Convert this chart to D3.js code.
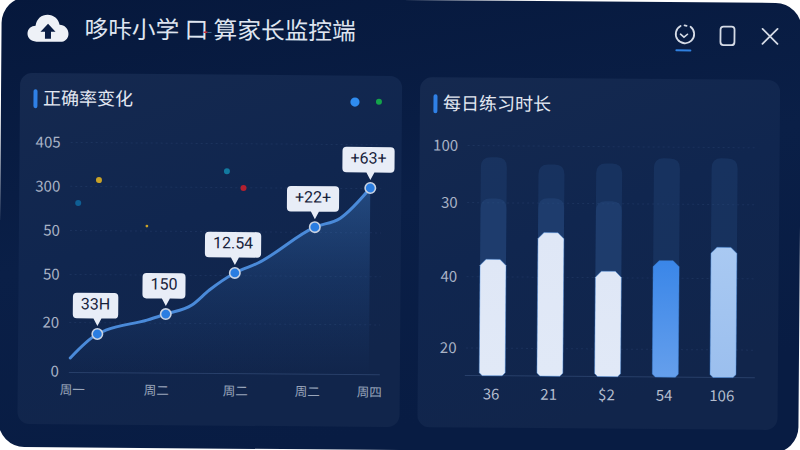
<!DOCTYPE html>
<html>
<head>
<meta charset="utf-8">
<script src="https://cdn.jsdelivr.net/npm/d3@7/dist/d3.min.js"></script>
<style>
  html, body { margin: 0; padding: 0; background: #fff; overflow: hidden; }
  svg { display: block; }
  text { font-family: "Noto Sans CJK SC", "Noto Sans", sans-serif; }
  .num { font-family: Roboto, "Noto Sans", sans-serif; }
</style>
</head>
<body>
<svg id="chart" width="800" height="450"></svg>
<script>
var titleText = '哆咔小学 口 算家长监控端'
var rateTitle = '正确率变化'
var timeTitle = '每日练习时长'

// left chart: day is a position along the week axis, rate is 0-100 of the plot height
var dayLabels = ['周一', '周二', '周二', '周二', '周四']
var rateTickLabels = ['0', '20', '50', '50', '300', '405']
var rateTickPos = [0.5, 21.7, 42.6, 61.7, 80.9, 100]
var lineDays = [-0.02, 0.30, 0.41, 0.89, 1.12, 1.45, 1.67, 1.99, 2.31, 3.11, 3.52, 4]
var lineRates = [6.3, 16.8, 18.6, 23, 25.7, 29.7, 36.3, 43.8, 48.2, 64, 68, 81.2]
var markDays = [0.30, 1.12, 1.99, 3.11, 4]
var markRates = [16.8, 25.7, 43.8, 64, 81.2]
var markLabels = ['33H', '150', '12.54', '+22+', '+63+']
var speckDays = [0.06, 0.305, 0.88, 1.88, 2.1]
var speckRates = [73.7, 83.7, 63.9, 88, 80.8]
var speckColors = ['#0f5f94', '#c9a227', '#c9a227', '#12799f', '#b3202f']

// right chart
var barLabels = ['36', '21', '$2', '54', '106']
var barValues = [50.6, 62.4, 45.8, 50.6, 56.6]
var trackValues = [95, 92, 92.7, 95.1, 95.3]
var overlayValues = [77.1, 77.4, 76.3, 0, 0]
var timeTickLabels = ['20', '40', '30', '100']
var timeTickPos = [12, 43, 75.2, 100]

var svg = d3.select('#chart')
var defs = svg.append('defs')

function linearGrad(id, x2, y2, stops) {
    var g = defs.append('linearGradient').attr('id', id)
        .attr('x1', 0).attr('y1', 0).attr('x2', x2).attr('y2', y2)
    stops.forEach(function(s) {
        g.append('stop').attr('offset', s[0]).attr('stop-color', s[1]).attr('stop-opacity', s[2])
    })
}
linearGrad('winGrad', 0.35, 1, [[0, '#06183c', 1], [0.55, '#0a1f47', 1], [1, '#081c43', 1]])
linearGrad('cardGrad', 0.4, 1, [[0, '#15294f', 1], [0.5, '#10264f', 1], [1, '#11254b', 1]])
linearGrad('areaGrad', 0, 1, [[0, '#3f7cc4', 0.42], [0.5, '#2f66ad', 0.2], [1, '#2a5ea3', 0]])
linearGrad('barWhite', 0, 1, [[0, '#dfe7f6', 1], [1, '#e1e9f7', 1]])
linearGrad('barBlue', 0, 1, [[0, '#3a86e8', 1], [1, '#659fec', 1]])
linearGrad('barPale', 0, 1, [[0, '#a9c9f2', 1], [1, '#9bbfee', 1]])
var barFills = ['url(#barWhite)', 'url(#barWhite)', 'url(#barWhite)', 'url(#barBlue)', 'url(#barPale)']

// the whole window sits a little crooked in the picture
var root = svg.append('g').attr('transform', 'rotate(0.45 400 225)')

root.append('rect').attr('width', 800).attr('height', 450).attr('rx', 26)
    .attr('fill', 'url(#winGrad)')

function card(x, y, w, h) {
    root.append('rect').attr('x', x).attr('y', y).attr('width', w).attr('height', h).attr('rx', 12)
        .attr('fill', 'url(#cardGrad)')
}
card(19, 76, 382, 351)
card(419, 77, 360, 350)

// header
var cloud = root.append('g').attr('transform', 'translate(25,15.5)')
cloud.append('path')
    .attr('d', 'M10 29C4 29 1 25 1 21C1 16 5 13 9 13C10 6 15 2 21 2C27 2 32 6 33 12C38 12 42 16 42 21C42 26 38 29 34 29Z')
    .attr('fill', '#eef1f7')
cloud.append('path')
    .attr('d', 'M21.5 11L29 19H24.5V26H18.5V19H14Z')
    .attr('fill', '#0a1d44')

root.append('text').attr('x', 83).attr('y', 40)
    .attr('font-size', 23.7).attr('fill', '#dfe5f0').text(titleText)
root.append('rect').attr('x', 202).attr('y', 33).attr('width', 4).attr('height', 1.5).attr('fill', '#c8303f')
root.append('rect').attr('x', 206).attr('y', 33.5).attr('width', 4).attr('height', 1).attr('fill', '#3c6f96')

var icons = root.append('g').attr('transform', 'translate(-2,-2)').attr('fill', 'none').attr('stroke', '#d5dbe6')
    .attr('stroke-width', 1.8).attr('stroke-linecap', 'round')
icons.append('path').attr('d', 'M691 26.5A9.2 9.2 0 1 1 681 25.8M685 25.2L687 25.6')
icons.append('path').attr('d', 'M681 34L684.5 37L688 34').attr('stroke-width', 1.6)
icons.append('rect').attr('x', 721).attr('y', 26).attr('width', 14).attr('height', 18.5).attr('rx', 3)
icons.append('path').attr('d', 'M763 28L778 43M778 28L763 43')
root.append('rect').attr('x', 674).attr('y', 47.2).attr('width', 16).attr('height', 2).attr('rx', 1).attr('fill', '#2f80e0')

function cardTitle(x, y, label) {
    root.append('rect').attr('x', x).attr('y', y - 9).attr('width', 4).attr('height', 19).attr('rx', 2).attr('fill', '#2f80e6')
    root.append('text').attr('x', x + 9.5).attr('y', y + 6.5)
        .attr('font-size', 18).attr('fill', '#e2e7f1').text(label)
}
cardTitle(32.5, 101, rateTitle)
cardTitle(432.5, 103, timeTitle)

root.append('circle').attr('cx', 354).attr('cy', 102.4).attr('r', 4.6).attr('fill', '#2f8cf0')
root.append('circle').attr('cx', 378).attr('cy', 102).attr('r', 3).attr('fill', '#14a44a')

function styleAxis(g, size, color) {
    g.select('.domain').remove()
    g.selectAll('line').remove()
    g.selectAll('text').attr('font-size', size).attr('fill', color)
}

// left chart
var xDay = d3.scaleLinear().domain([0, 1, 2, 3, 4]).range([73, 157, 236, 308, 370])
var yRate = d3.scaleLinear().domain([0, 100]).range([375, 145])

var rateGrid = root.append('g')
rateGrid.selectAll('line').data(rateTickPos.slice(1)).enter().append('line')
    .attr('x1', 70).attr('x2', 381)
    .attr('y1', yRate).attr('y2', yRate)
    .attr('stroke', '#6f8fc4').attr('stroke-opacity', 0.12).attr('stroke-dasharray', '2 3')
root.append('line').attr('x1', 70).attr('x2', 381).attr('y1', yRate(0)).attr('y2', yRate(0))
    .attr('stroke', '#6f8fc4').attr('stroke-opacity', 0.25)

var axisRate = d3.axisLeft(yRate).tickValues(rateTickPos).tickSize(0).tickPadding(0)
    .tickFormat(function(d, i) { return rateTickLabels[i] })
root.append('g').attr('class', 'num').attr('transform', 'translate(60,0)').call(axisRate)
    .call(styleAxis, 15, '#a9b3c6')

var axisDay = d3.axisBottom(xDay).tickValues([0, 1, 2, 3, 4]).tickSize(0).tickPadding(0)
    .tickFormat(function(d, i) { return dayLabels[i] })
root.append('g').attr('transform', 'translate(0,388)').call(axisDay)
    .call(styleAxis, 12.5, '#9aa6bb')

var linePts = lineDays.map(function(d, i) { return [d, lineRates[i]] })
var area = d3.area().curve(d3.curveMonotoneX)
    .x(function(d) { return xDay(d[0]) }).y0(yRate(0)).y1(function(d) { return yRate(d[1]) })
var line = d3.line().curve(d3.curveMonotoneX)
    .x(function(d) { return xDay(d[0]) }).y(function(d) { return yRate(d[1]) })

root.append('path').attr('d', area(linePts)).attr('fill', 'url(#areaGrad)')
root.append('path').attr('d', line(linePts)).attr('fill', 'none')
    .attr('stroke', '#4a8ad9').attr('stroke-width', 3).attr('stroke-linecap', 'round')

root.selectAll('.speck').data(speckDays).enter().append('circle').attr('class', 'speck')
    .attr('cx', function(d) { return xDay(d) })
    .attr('cy', function(d, i) { return yRate(speckRates[i]) })
    .attr('r', function(d, i) { return i === 2 ? 1.4 : 3 })
    .attr('fill', function(d, i) { return speckColors[i] })

var marks = root.selectAll('.mark').data(markDays).enter().append('g').attr('class', 'mark')
    .attr('transform', function(d, i) { return 'translate(' + xDay(d) + ',' + yRate(markRates[i]) + ')' })
marks.append('circle').attr('r', 5.2)
    .attr('fill', '#2a7de1').attr('stroke', '#c9d3e3').attr('stroke-width', 1.6)

var tip = marks.append('g').attr('transform', 'translate(-2,0)')
var tipBox = tip.append('path').attr('fill', '#e8edf7')
tip.append('text').attr('class', 'num').attr('text-anchor', 'middle').attr('y', -24.5)
    .attr('font-size', 16).attr('fill', '#16213a')
    .text(function(d, i) { return markLabels[i] })
tipBox.attr('d', function() {
    var w = this.parentNode.querySelector('text').getComputedTextLength() + 16
    var h = 25.5, b = -15.5, r = 4, l = -w / 2, t = b - h, e = w / 2
    return 'M' + (l + r) + ' ' + t + 'H' + (e - r) + 'Q' + e + ' ' + t + ' ' + e + ' ' + (t + r) +
        'V' + (b - r) + 'Q' + e + ' ' + b + ' ' + (e - r) + ' ' + b +
        'H6L2 -8L-2 ' + b + 'H' + (l + r) + 'Q' + l + ' ' + b + ' ' + l + ' ' + (b - r) +
        'V' + (t + r) + 'Q' + l + ' ' + t + ' ' + (l + r) + ' ' + t + 'Z'
})

// right chart
var xBar = d3.scaleBand().domain(barLabels).range([464.5, 753]).paddingInner(0.55).paddingOuter(0.275)
var yTime = d3.scaleLinear().domain([0, 100]).range([375, 145])

root.append('g').selectAll('line').data(timeTickPos).enter().append('line')
    .attr('x1', 467).attr('x2', 755)
    .attr('y1', yTime).attr('y2', yTime)
    .attr('stroke', '#6f8fc4').attr('stroke-opacity', 0.12).attr('stroke-dasharray', '2 3')
root.append('line').attr('x1', 466).attr('x2', 756).attr('y1', yTime(0)).attr('y2', yTime(0))
    .attr('stroke', '#6f8fc4').attr('stroke-opacity', 0.25)

var axisTime = d3.axisLeft(yTime).tickValues(timeTickPos).tickSize(0).tickPadding(0)
    .tickFormat(function(d, i) { return timeTickLabels[i] })
root.append('g').attr('class', 'num').attr('transform', 'translate(457.5,0)').call(axisTime)
    .call(styleAxis, 15, '#a9b3c6')

var axisBar = d3.axisBottom(xBar).tickSize(0).tickPadding(0)
root.append('g').attr('class', 'num').attr('transform', 'translate(-1,388)').call(axisBar)
    .call(styleAxis, 15, '#b4bdce')

// rounded track on top, chamfered bars in front
function chamfer(x, w, top, bottom, c) {
    return 'M' + x + ' ' + (top + c) + 'L' + (x + c) + ' ' + top + 'H' + (x + w - c) + 'L' + (x + w) + ' ' + (top + c) +
        'V' + (bottom - 3) + 'L' + (x + w - 3) + ' ' + bottom + 'H' + (x + 3) + 'L' + x + ' ' + (bottom - 3) + 'Z'
}
function rounded(x, w, top, bottom, r) {
    return 'M' + x + ' ' + bottom + 'V' + (top + r) + 'Q' + x + ' ' + top + ' ' + (x + r) + ' ' + top +
        'H' + (x + w - r) + 'Q' + (x + w) + ' ' + top + ' ' + (x + w) + ' ' + (top + r) + 'V' + bottom + 'Z'
}
root.selectAll('.track').data(barLabels).enter().append('path').attr('class', 'track')
    .attr('d', function(d, i) { return rounded(xBar(d), xBar.bandwidth(), yTime(trackValues[i]), yTime(barValues[i]) + 8, 10) })
    .attr('fill', '#24477d').attr('fill-opacity', 0.36)
root.selectAll('.overlay').data(barLabels.filter(function(d, i) { return overlayValues[i] > 0 })).enter()
    .append('path').attr('class', 'overlay')
    .attr('d', function(d, i) { return rounded(xBar(d), xBar.bandwidth(), yTime(overlayValues[i]), yTime(barValues[i]) + 8, 10) })
    .attr('fill', '#2f568f').attr('fill-opacity', 0.3)
root.selectAll('.bar').data(barLabels).enter().append('path').attr('class', 'bar')
    .attr('d', function(d, i) { return chamfer(xBar(d), xBar.bandwidth(), yTime(barValues[i]), yTime(0), 6) })
    .attr('fill', function(d, i) { return barFills[i] })
    .attr('stroke', '#3f86dc').attr('stroke-opacity', 0.55).attr('stroke-width', 0.8)
</script>
</body>
</html>
